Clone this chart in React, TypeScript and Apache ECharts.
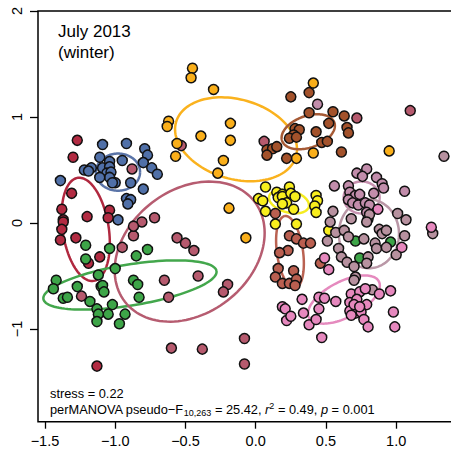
import React, { useEffect, useRef } from "react";
import * as echarts from "echarts";

// ---- data (NMDS coordinates) ----
const blue = [[-1.09,0.74],[-0.92,0.75],[-0.79,0.70],[-0.77,0.64],[-0.80,0.57],[-1.04,0.58],[-1.11,0.62],[-1.17,0.52],[-1.22,0.50],[-1.19,0.49],[-1.09,0.52],[-1.04,0.53],[-1.06,0.47],[-1.03,0.48],[-1.04,0.43],[-1.00,0.38],[-1.11,0.43],[-0.95,0.59],[-0.74,0.52],[-0.70,0.46],[-1.39,0.40],[-0.89,0.38],[-0.80,0.32],[-0.92,0.23],[-0.89,0.22],[-0.91,0.18],[-0.98,0.03],[-1.02,0.38]];
const crimson = [[-1.27,0.78],[-1.30,0.62],[-1.31,0.28],[-1.38,0.13],[-1.37,0.03],[-1.37,0.01],[-1.38,-0.06],[-1.39,-0.16],[-1.20,0.06],[-1.04,0.12],[-1.05,0.05],[-1.28,-0.14],[-1.11,-0.32],[-1.19,-0.38],[-1.13,-1.35]];
const rose = [[-0.88,0.51],[-0.81,0.01],[-0.72,0.05],[-0.87,-0.12],[-0.87,-0.03],[-0.56,-0.14],[-0.50,-0.19],[-0.44,-0.26],[-0.65,-0.54],[-0.41,-0.50],[-0.20,-0.58],[-0.23,-0.65],[-0.62,-0.70],[-0.60,-1.18],[-0.38,-1.19],[-0.08,-1.09],[-0.08,-1.33],[-0.53,0.73],[0.06,0.77],[0.72,0.99],[1.10,1.06],[-1.24,-0.69],[-0.95,-0.23]];
const green = [[-1.21,-0.21],[-1.04,-0.24],[-0.77,-0.25],[-0.85,-0.31],[-1.21,-0.34],[-1.12,-0.49],[-1.42,-0.54],[-1.27,-0.60],[-1.10,-0.60],[-0.87,-0.54],[-0.84,-0.58],[-1.00,-0.43],[-0.83,-0.70],[-1.09,-0.59],[-1.08,-0.65],[-1.02,-0.77],[-1.05,-0.86],[-0.93,-0.86],[-0.97,-0.95],[-1.44,-0.62],[-1.37,-0.71],[-1.34,-0.70],[-1.18,-0.74],[-1.13,-0.81],[-1.12,-0.86],[-1.13,-0.93],[0.71,-0.17],[0.96,-0.18],[0.74,-0.33]];
const orange = [[-0.62,0.96],[-0.63,0.91],[-0.56,0.75],[-0.45,1.46],[-0.46,1.37],[-0.30,1.26],[-0.18,0.94],[-0.39,0.82],[-0.18,0.78],[-0.57,0.63],[-0.23,0.59],[0.29,0.61],[0.41,1.32],[0.41,0.66],[0.95,0.68],[-0.27,0.47],[-0.19,0.14],[-0.07,-0.14]];
const brown = [[0.25,1.19],[0.38,1.23],[0.38,1.04],[0.55,1.05],[0.63,1.01],[0.52,0.94],[0.65,0.90],[0.66,0.85],[0.43,0.86],[0.28,0.89],[0.31,0.88],[0.27,0.83],[0.24,0.80],[0.29,0.81],[0.47,0.76],[0.51,0.77],[0.61,0.67],[0.22,0.61],[0.08,0.69],[0.12,0.70],[0.15,0.72],[0.08,0.64]];
const yellow = [[0.07,0.34],[0.02,0.23],[0.05,0.21],[0.07,0.11],[0.15,0.29],[0.19,0.27],[0.16,0.24],[0.19,0.25],[0.24,0.34],[0.25,0.28],[0.28,0.25],[0.22,0.19],[0.19,0.18],[0.27,0.13],[0.14,-0.01],[0.29,-0.01],[0.43,0.26],[0.44,0.21],[0.42,0.16],[0.43,0.10],[0.52,-0.07]];
const redbrown = [[0.14,0.09],[0.24,-0.12],[0.29,-0.15],[0.34,-0.19],[0.39,-0.19],[0.23,-0.26],[0.17,-0.28],[0.46,-0.38],[0.27,-0.45],[0.16,-0.43],[0.14,-0.51],[0.19,-0.57],[0.24,-0.57],[0.29,-0.53],[0.28,-0.59]];
const mauveUpper = [[0.72,0.47],[0.79,0.51],[0.76,0.44],[0.86,0.43],[0.90,0.37],[0.91,0.33],[0.56,0.35],[0.66,0.35],[0.67,0.29],[0.71,0.26],[0.74,0.27],[0.84,0.28],[0.66,0.22],[0.69,0.19],[0.73,0.17],[0.78,0.19],[0.81,0.17],[0.79,0.10],[1.06,0.30],[0.44,1.12]];
const mauveLower = [[0.55,0.11],[0.68,0.04],[0.80,0.04],[0.81,0.08],[0.79,0.01],[0.53,0.01],[0.57,-0.09],[0.63,-0.07],[0.66,-0.13],[0.77,-0.15],[0.88,-0.06],[0.90,-0.10],[0.93,-0.07],[0.85,-0.19],[0.86,-0.24],[0.93,-0.23],[1.01,0.09],[1.07,0.03],[1.06,-0.12],[1.00,-0.30],[0.51,-0.17],[0.59,-0.24],[0.61,-0.32],[0.65,-0.37],[0.80,-0.32],[0.79,-0.38],[0.70,-0.41],[0.71,-0.51],[0.70,-0.54],[1.26,-0.10],[1.34,0.63],[0.83,-0.63]];
const pink = [[0.19,-0.79],[0.21,-0.81],[0.22,-0.92],[0.25,-0.88],[0.33,-0.72],[0.34,-0.85],[0.38,-0.96],[0.43,-0.91],[0.45,-0.81],[0.45,-0.70],[0.49,-0.71],[0.57,-0.74],[0.47,-1.08],[0.68,-0.67],[0.74,-0.65],[0.78,-0.62],[0.88,-0.67],[0.96,-0.64],[0.67,-0.75],[0.72,-0.72],[0.79,-0.77],[0.67,-0.83],[0.71,-0.85],[0.68,-0.87],[0.75,-0.84],[0.77,-0.91],[0.80,-0.98],[0.98,-0.84],[0.99,-0.98],[0.70,-0.77],[0.74,-0.79],[0.87,0.13],[1.25,-0.04],[1.04,-0.23],[0.49,-0.33],[0.52,-0.44]];

// ellipses: [centerX, centerY, axis1 dx, axis1 dy, axis2 dx, axis2 dy]
const blueEll = [-0.98, 0.48, 0.157, 0, 0, 0.175];
const crimsonEll = [-1.21, -0.06, -0.057, 0.486, 0.162, 0.034];
const roseEll = [-0.47, -0.27, 0.461, 0.473, -0.269, 0.461];
const greenEll = [-0.895, -0.585, 0.616, 0.132, -0.023, 0.191];
const orangeEll = [-0.14, 0.79, 0.427, -0.162, 0.078, 0.361];
const brownEll = [0.374, 0.861, 0.186, 0.086, -0.037, 0.141];
const yellowEll = [0.237, 0.203, 0.141, -0.05, 0.02, 0.1];
const redbrownEll = [0.244, -0.274, -0.036, 0.34, 0.092, 0.017];
const mauveUpperEll = [0.754, 0.241, 0.128, 0, 0, 0.151];
const mauveLowerEll = [0.806, -0.102, 0.214, 0, 0, 0.325];
const pinkEll = [0.628, -0.722, 0.249, 0.17, -0.058, 0.151];

const xTicks = [-1.5, -1.0, -0.5, 0.0, 0.5, 1.0];
const yTicks = [-1, 0, 1, 2];

const FONT = '"Liberation Sans", Arial, Helvetica, sans-serif';

const groups = [
  { pts: blue, ell: blueEll, color: "#5070A8", line: "#5A74A8" },
  { pts: crimson, ell: crimsonEll, color: "#B22B42", line: "#B0283F" },
  { pts: green, ell: greenEll, color: "#3DA548", line: "#43A74C" },
  { pts: rose, ell: roseEll, color: "#B65A6E", line: "#B65C70" },
  { pts: orange, ell: orangeEll, color: "#FAAF1A", line: "#FAB21E" },
  { pts: brown, ell: brownEll, color: "#A3522B", line: "#A65A35" },
  { pts: yellow, ell: yellowEll, color: "#F8EE1E", line: "#F5EC20" },
  { pts: redbrown, ell: redbrownEll, color: "#BA5F50", line: "#BA6252" },
  { pts: mauveUpper, ell: mauveUpperEll, color: "#C28DAB", line: "#C792B0" },
  { pts: mauveLower, ell: mauveLowerEll, color: "#B7919F", line: "#BA98A7" },
  { pts: pink, ell: pinkEll, color: "#E688BE", line: "#E58ABE" },
];

const minus = (s: string) => s.replace("-", "\u2212");

export default function App() {
  const ref = useRef<HTMLDivElement>(null);
  useEffect(() => {
    if (!ref.current) return;
    const chart = echarts.init(ref.current, undefined, { renderer: "svg" });
    const series: any[] = [];
    groups.forEach((g) => {
      series.push({
        type: "custom",
        coordinateSystem: "cartesian2d",
        z: 1,
        silent: true,
        encode: { x: 0, y: 1 },
        data: [g.ell],
        renderItem: (params: any, api: any) => {
          const cx = api.value(0), cy = api.value(1);
          const ux = api.value(2), uy = api.value(3);
          const vx = api.value(4), vy = api.value(5);
          const points: number[][] = [];
          for (let k = 0; k <= 120; k++) {
            const t = (k / 120) * Math.PI * 2;
            points.push(api.coord([cx + ux * Math.cos(t) + vx * Math.sin(t), cy + uy * Math.cos(t) + vy * Math.sin(t)]));
          }
          return {
            type: "polyline",
            shape: { points },
            style: { fill: "none", stroke: g.line, lineWidth: 2.5 },
          };
        },
      });
    });
    groups.forEach((g) => {
      series.push({
        type: "scatter",
        z: 3,
        data: g.pts,
        symbol: "circle",
        symbolSize: 10,
        itemStyle: { color: g.color, borderColor: "#111", borderWidth: 1.5, opacity: 1 },
      });
    });

    chart.setOption({
      animation: false,
      grid: {
        left: 38, top: 11, width: 414, height: 410.7,
        show: true, borderColor: "#000", borderWidth: 1.5, backgroundColor: "transparent",
      },
      xAxis: {
        type: "value", min: -1.5495, max: 1.3972,
        axisLine: { show: false, onZero: false }, splitLine: { show: false },
        axisTick: { show: true, length: 7, customValues: xTicks, lineStyle: { color: "#000", width: 1.3 } },
        axisLabel: {
          customValues: xTicks, margin: 12, fontSize: 14.5, color: "#000", fontFamily: FONT,
          formatter: (v: number) => minus(v.toFixed(1)),
        },
      },
      yAxis: {
        type: "value", min: -1.8745, max: 2.0,
        axisLine: { show: false, onZero: false }, splitLine: { show: false },
        axisTick: { show: true, length: 8, customValues: yTicks, lineStyle: { color: "#000", width: 1.3 } },
        axisLabel: {
          customValues: yTicks, margin: 14, fontSize: 14.5, color: "#000", fontFamily: FONT, rotate: 90,
          formatter: (v: number) => minus(String(v)),
        },
      },
      graphic: [
        { type: "text", x: 58, y: 31.5, style: { text: "July 2013", fontSize: 17, fontFamily: FONT, fill: "#000", verticalAlign: "middle" } },
        { type: "text", x: 58, y: 52.5, style: { text: "(winter)", fontSize: 17, fontFamily: FONT, fill: "#000", verticalAlign: "middle" } },
        { type: "text", x: 50, y: 393, style: { text: "stress = 0.22", fontSize: 12.8, fontFamily: FONT, fill: "#000", verticalAlign: "middle" } },
        {
          type: "text", x: 50, y: 409,
          style: {
            text: "{n|perMANOVA pseudo\u2212F}{sub|10,263}{n| = 25.42, }{i|r}{sup|2}{n| = 0.49, }{i|p}{n| = 0.001}",
            fill: "#000",
            verticalAlign: "middle",
            rich: {
              n: { fontSize: 12.8, lineHeight: 16, fontFamily: FONT, fill: "#000" },
              i: { fontSize: 12.8, lineHeight: 16, fontFamily: FONT, fontStyle: "italic", fill: "#000" },
              sub: { fontSize: 9, lineHeight: 9, fontFamily: FONT, verticalAlign: "bottom", fill: "#000" },
              sup: { fontSize: 9, lineHeight: 9, fontFamily: FONT, verticalAlign: "top", fill: "#000" },
            },
          },
        },
      ],
      series,
    });
    return () => chart.dispose();
  }, []);
  return (
    <div
      ref={ref}
      style={{ position: "fixed", left: 0, top: 0, width: 460, height: 456, background: "#fff" }}
    />
  );
}
